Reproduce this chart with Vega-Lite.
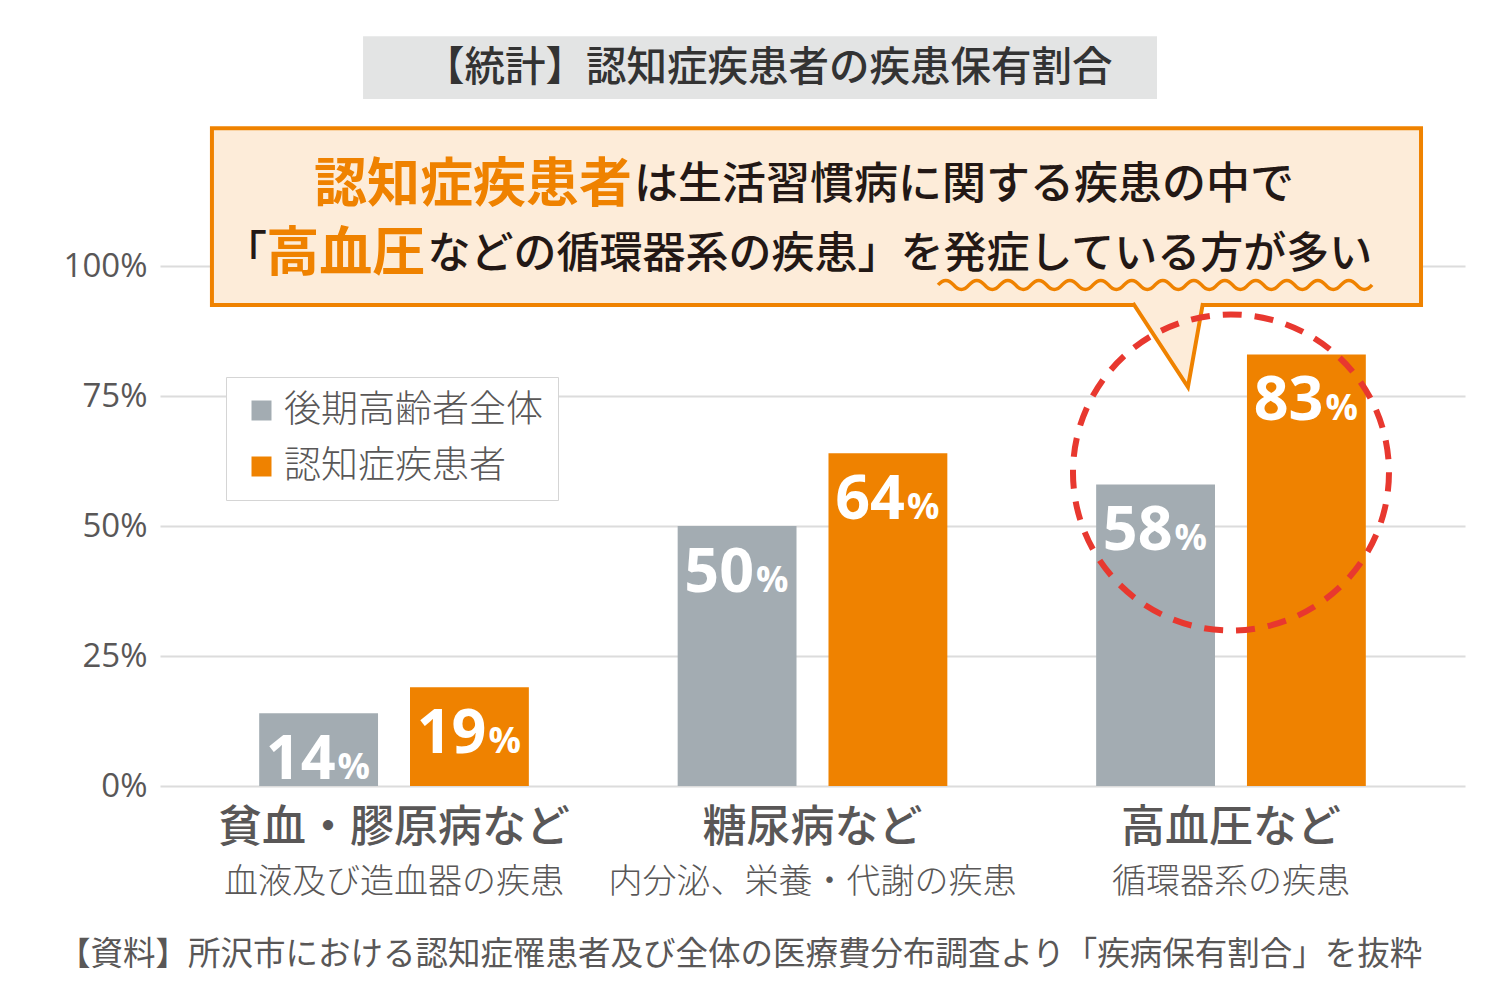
{
 "$schema": "https://vega.github.io/schema/vega-lite/v6.json",
 "width": 1305, "height": 520,
 "autosize": {"type": "none"},
 "padding": {"left": 160, "top": 266, "right": 35, "bottom": 214},
 "background": "#ffffff",
 "config": {"view": {"stroke": null}, "font": "Noto Sans CJK JP"},
 "resolve": {"scale": {"x": "independent"}, "axis": {"x": "independent", "y": "independent"}},
 "layer": [
  {
   "data": {"values": [{}]},
   "layer": [
    {"mark": {"type": "rect", "fill": "#e3e4e4"},
     "encoding": {
      "x": {"datum": 15.56, "type": "quantitative", "scale": {"domain": [0, 100]}, "axis": null},
      "x2": {"datum": 76.4},
      "y": {"datum": 144.2, "type": "quantitative", "scale": {"domain": [0, 100]}, "axis": null},
      "y2": {"datum": 132.1}}},
    {"mark": {"type": "text", "text": "【統計】認知症疾患者の疾患保有割合", "font": "Noto Sans CJK JP", "fontSize": 40.5, "fontWeight": 500, "color": "#333333", "align": "center", "baseline": "middle"},
     "encoding": {
      "x": {"datum": 46.6, "type": "quantitative", "scale": {"domain": [0, 100]}, "axis": null},
      "y": {"datum": 137.8, "type": "quantitative", "scale": {"domain": [0, 100]}, "axis": null}}},
    {"mark": {"type": "rect", "fill": "#fdecd9", "stroke": "#ef8200", "strokeWidth": 4},
     "encoding": {
      "x": {"datum": 3.98, "type": "quantitative", "scale": {"domain": [0, 100]}, "axis": null},
      "x2": {"datum": 96.63},
      "y": {"datum": 126.5, "type": "quantitative", "scale": {"domain": [0, 100]}, "axis": null},
      "y2": {"datum": 92.5}}},
    {"mark": {"type": "point", "shape": "M -0.74 -0.84 L 0.36 0.84 L 0.66 -0.84", "size": 10000, "filled": true, "fill": "#fdecd9", "stroke": "#ef8200", "strokeWidth": 4, "strokeJoin": "miter", "opacity": 1},
     "encoding": {
      "x": {"datum": 77.39, "type": "quantitative", "scale": {"domain": [0, 100]}, "axis": null},
      "y": {"datum": 84.81, "type": "quantitative", "scale": {"domain": [0, 100]}, "axis": null}}},
    {"mark": {"type": "point", "shape": "M -1 0 Q -0.9643 -0.042 -0.9286 0 T -0.8571 0 T -0.7857 0 T -0.7143 0 T -0.6429 0 T -0.5714 0 T -0.5 0 T -0.4286 0 T -0.3571 0 T -0.2857 0 T -0.2143 0 T -0.1429 0 T -0.0714 0 T 0 0 T 0.0714 0 T 0.1429 0 T 0.2143 0 T 0.2857 0 T 0.3571 0 T 0.4286 0 T 0.5 0 T 0.5714 0 T 0.6429 0 T 0.7143 0 T 0.7857 0 T 0.8571 0 T 0.9286 0 T 1 0", "size": 188356, "filled": false, "stroke": "#ef8200", "strokeWidth": 3.5, "opacity": 1},
     "encoding": {
      "x": {"datum": 76.25, "type": "quantitative", "scale": {"domain": [0, 100]}, "axis": null},
      "y": {"datum": 96.35, "type": "quantitative", "scale": {"domain": [0, 100]}, "axis": null}}},
    {"mark": {"type": "text", "text": "認知症疾患者", "font": "Noto Sans CJK JP", "fontSize": 53, "fontWeight": "bold", "color": "#ef8200", "align": "right", "baseline": "middle"},
     "encoding": {
      "x": {"datum": 36.17, "type": "quantitative", "scale": {"domain": [0, 100]}, "axis": null},
      "y": {"datum": 115.4, "type": "quantitative", "scale": {"domain": [0, 100]}, "axis": null}}},
    {"mark": {"type": "text", "text": "は生活習慣病に関する疾患の中で", "font": "Noto Sans CJK JP", "fontSize": 44, "fontWeight": 500, "color": "#231815", "align": "left", "baseline": "middle"},
     "encoding": {
      "x": {"datum": 36.32, "type": "quantitative", "scale": {"domain": [0, 100]}, "axis": null},
      "y": {"datum": 115.4, "type": "quantitative", "scale": {"domain": [0, 100]}, "axis": null}}},
    {"mark": {"type": "text", "text": "「", "font": "Noto Sans CJK JP", "fontSize": 44, "fontWeight": 500, "color": "#231815", "align": "right", "baseline": "middle"},
     "encoding": {
      "x": {"datum": 8.2, "type": "quantitative", "scale": {"domain": [0, 100]}, "axis": null},
      "y": {"datum": 102.1, "type": "quantitative", "scale": {"domain": [0, 100]}, "axis": null}}},
    {"mark": {"type": "text", "text": "高血圧", "font": "Noto Sans CJK JP", "fontSize": 53, "fontWeight": "bold", "color": "#ef8200", "align": "left", "baseline": "middle"},
     "encoding": {
      "x": {"datum": 8.15, "type": "quantitative", "scale": {"domain": [0, 100]}, "axis": null},
      "y": {"datum": 102.1, "type": "quantitative", "scale": {"domain": [0, 100]}, "axis": null}}},
    {"mark": {"type": "text", "text": "などの循環器系の疾患」を発症している方が多い", "font": "Noto Sans CJK JP", "fontSize": 43, "fontWeight": 500, "color": "#231815", "align": "left", "baseline": "middle"},
     "encoding": {
      "x": {"datum": 20.5, "type": "quantitative", "scale": {"domain": [0, 100]}, "axis": null},
      "y": {"datum": 102.1, "type": "quantitative", "scale": {"domain": [0, 100]}, "axis": null}}},
    {"mark": {"type": "text", "text": "【資料】所沢市における認知症罹患者及び全体の医療費分布調査より「疾病保有割合」を抜粋", "font": "Noto Sans CJK JP", "fontSize": 32.5, "fontWeight": 400, "color": "#595757", "align": "center", "baseline": "middle"},
     "encoding": {
      "x": {"datum": 44.45, "type": "quantitative", "scale": {"domain": [0, 100]}, "axis": null},
      "y": {"datum": -32.5, "type": "quantitative", "scale": {"domain": [0, 100]}, "axis": null}}}
   ]
  },
  {
   "data": {"values": [
    {"g": "貧血・膠原病など", "sub": "血液及び造血器の疾患", "s": "後期高齢者全体", "v": 14},
    {"g": "貧血・膠原病など", "sub": "血液及び造血器の疾患", "s": "認知症疾患者", "v": 19},
    {"g": "糖尿病など", "sub": "内分泌、栄養・代謝の疾患", "s": "後期高齢者全体", "v": 50},
    {"g": "糖尿病など", "sub": "内分泌、栄養・代謝の疾患", "s": "認知症疾患者", "v": 64},
    {"g": "高血圧など", "sub": "循環器系の疾患", "s": "後期高齢者全体", "v": 58},
    {"g": "高血圧など", "sub": "循環器系の疾患", "s": "認知症疾患者", "v": 83}
   ]},
   "encoding": {
    "x": {"field": "g", "type": "nominal", "sort": null,
     "scale": {"paddingInner": 0.3556, "paddingOuter": 0.237},
     "axis": {"title": null, "labelAngle": 0, "labelFont": "Noto Sans CJK JP", "labelFontSize": 44, "labelFontWeight": 500, "labelColor": "#595757", "labelPadding": 20, "labelLimit": 600, "ticks": false, "domain": false, "grid": false}},
    "y": {"field": "v", "type": "quantitative", "scale": {"domain": [0, 100]},
     "axis": {"values": [0, 25, 50, 75, 100], "labelExpr": "datum.value + '%'", "title": null, "grid": true, "gridColor": "#dcdcdc", "gridWidth": 2, "domain": false, "ticks": false, "labelFont": "Open Sans", "labelFontSize": 33, "labelFontWeight": 400, "labelColor": "#595757", "labelPadding": 13}}
   },
   "layer": [
    {"mark": {"type": "bar"},
     "encoding": {
      "xOffset": {"field": "s", "type": "nominal", "sort": ["後期高齢者全体", "認知症疾患者"], "scale": {"paddingInner": 0.212, "paddingOuter": 0}},
      "color": {"field": "s", "type": "nominal", "sort": ["後期高齢者全体", "認知症疾患者"],
       "scale": {"range": ["#a3acb2", "#ef8200"]},
       "legend": {"orient": "none", "legendX": 66, "legendY": 111, "title": null, "direction": "vertical", "fillColor": "#ffffff", "strokeColor": "#d5d5d5", "padding": 15, "rowPadding": 18, "symbolOffset": 2, "labelOffset": 4, "symbolType": "square", "symbolSize": 400, "symbolStrokeWidth": 0, "labelFont": "Noto Sans CJK JP", "labelFontSize": 37, "labelFontWeight": 300, "labelColor": "#595757", "labelLimit": 500}}}},
    {"mark": {"type": "text", "align": "right", "baseline": "alphabetic", "dx": 17, "dy": 66, "font": "Open Sans", "fontSize": 61, "fontWeight": "bold", "color": "#ffffff"},
     "encoding": {
      "xOffset": {"field": "s", "type": "nominal", "sort": ["後期高齢者全体", "認知症疾患者"]},
      "text": {"field": "v", "type": "quantitative"}}},
    {"mark": {"type": "text", "text": "%", "align": "left", "baseline": "alphabetic", "dx": 19, "dy": 66, "font": "Open Sans", "fontSize": 36, "fontWeight": "bold", "color": "#ffffff"},
     "encoding": {
      "xOffset": {"field": "s", "type": "nominal", "sort": ["後期高齢者全体", "認知症疾患者"]}}},
    {"transform": [{"filter": "datum.s === '後期高齢者全体'"}],
     "mark": {"type": "text", "font": "Noto Sans CJK JP", "fontSize": 34, "fontWeight": 300, "color": "#595757", "align": "center", "baseline": "middle"},
     "encoding": {
      "text": {"field": "sub", "type": "nominal"},
      "y": {"datum": -18.6, "type": "quantitative"}}},
    {"transform": [{"filter": "datum.s === '後期高齢者全体' && datum.g === '高血圧など'"}],
     "mark": {"type": "point", "shape": "circle", "size": 99856, "filled": false, "stroke": "#e8382f", "strokeWidth": 6, "strokeDash": [19, 13], "opacity": 1},
     "encoding": {
      "y": {"datum": 60.29, "type": "quantitative"}}}
   ]
  }
 ]
}
